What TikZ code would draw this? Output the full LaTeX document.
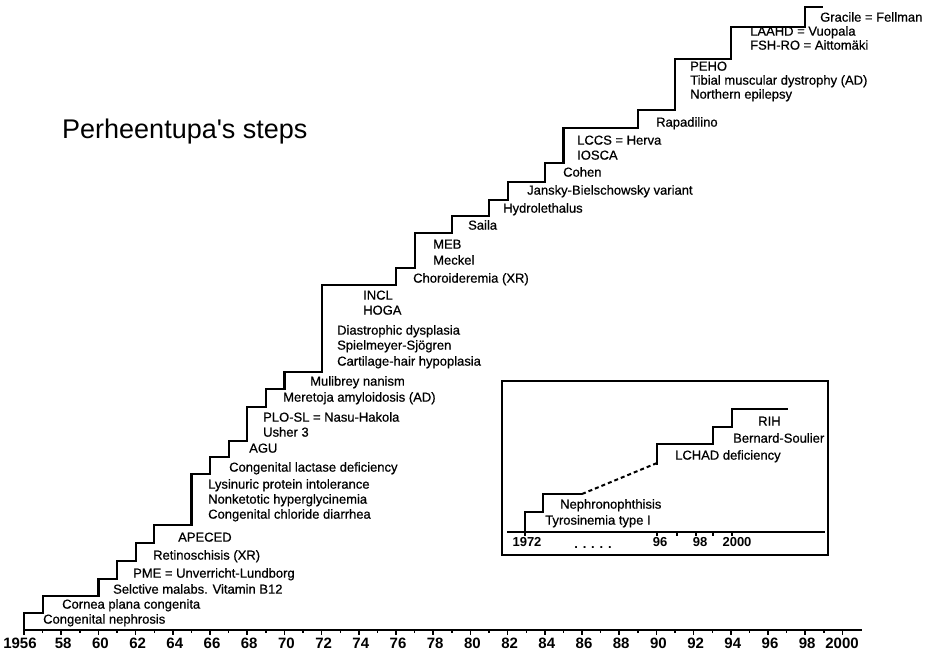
\documentclass[tikz,border=0pt]{standalone}
\usepackage{fontspec}
\setmainfont{Liberation Sans}
\newfontfamily\labfam{Liberation Sans}[FakeBold=0.6]
\newcommand\labfont{\labfam\fontsize{13}{15}\selectfont}
\newcommand\yrfont{\fontsize{15}{17}\selectfont\bfseries}
\newcommand\inyrfont{\fontsize{13}{15}\selectfont\bfseries}
\newcommand\ttlfont{\fontsize{27}{30}\selectfont}
\tikzset{
  lab/.style={anchor=mid west, inner sep=0pt, font=\labfont},
  yr/.style={anchor=mid, inner sep=0pt, font=\yrfont},
  inyr/.style={anchor=mid, inner sep=0pt, font=\inyrfont},
  stair/.style={line width=2.2pt, line join=miter},
  axisline/.style={line width=1.8pt},
  insetbox/.style={line width=1.4pt},
}
\begin{document}
\begin{tikzpicture}[x=1pt,y=-1pt]
\fill[white] (0,0) rectangle (928,653);
\useasboundingbox (0,0) rectangle (928,653);

% title
\node[anchor=mid west, inner sep=0pt, font=\ttlfont] (title) at (62,136) {Perheentupa\textquotesingle s steps};

% main axis
\coordinate (axL) at (24,630);
\coordinate (axR) at (862,630);
\draw[axisline] (axL) -- (axR);
\foreach \y in {1956,1958,...,2000}{
  \draw[line width=1.6pt] ({24+18.6*(\y-1956)},630) -- ++(0,5);
}
\foreach \y in {1957,1959,...,1999}{
  \draw[line width=1.4pt] ({24+18.6*(\y-1956)},630) -- ++(0,3);
}
\node[yr] (y1956) at (20,646) {1956};
\foreach \y in {58,60,...,98}{
  \node[yr] (y\y) at ({24+18.6*(\y-56)+2},646) {\y};
}
\node[yr] (y2000) at (842,646) {2000};

% staircase
\draw[stair] (24,630) |- (42.6,613) |- (98.4,596) |- (117,579) |- (135.6,561)
  |- (154.2,543) |- (191.4,525) |- (210,474) |- (228.6,457) |- (247.2,441)
  |- (265.8,407) |- (284.4,389) |- (321.6,372) |- (396,285) |- (414.6,268)
  |- (451.8,233) |- (489,216) |- (507.6,200) |- (544.8,182) |- (563.4,163)
  |- (637.8,128) |- (675,110) |- (730.8,59) |- (805.2,27) |- (823,7);

% labels
\node[lab] (l1) at (43,621) {Congenital nephrosis};
\node[lab] (l2) at (62,606) {Cornea plana congenita};
\node[lab] (l3) at (113,591) {Selctive malabs. Vitamin B12};
\node[lab] (l4) at (133,575) {PME = Unverricht-Lundborg};
\node[lab] (l5) at (153,557) {Retinoschisis (XR)};
\node[lab] (l6) at (178,539) {APECED};
\node[lab] (l7) at (208,486) {Lysinuric protein intolerance};
\node[lab] (l8) at (208,501) {Nonketotic hyperglycinemia};
\node[lab] (l9) at (208,516) {Congenital chloride diarrhea};
\node[lab] (l10) at (229,469) {Congenital lactase deficiency};
\node[lab] (l11) at (249,450) {AGU};
\node[lab] (l12) at (263,419) {PLO-SL = Nasu-Hakola};
\node[lab] (l13) at (263,434) {Usher 3};
\node[lab] (l14) at (283,399) {Meretoja amyloidosis (AD)};
\node[lab] (l15) at (310,383) {Mulibrey nanism};
\node[lab] (l16) at (337,332) {Diastrophic dysplasia};
\node[lab] (l17) at (337,347) {Spielmeyer-Sjögren};
\node[lab] (l18) at (337,363) {Cartilage-hair hypoplasia};
\node[lab] (l19) at (363,297) {INCL};
\node[lab] (l20) at (363,312) {HOGA};
\node[lab] (l21) at (413,280) {Choroideremia (XR)};
\node[lab] (l22) at (433,246) {MEB};
\node[lab] (l23) at (433,262) {Meckel};
\node[lab] (l24) at (468,227) {Saila};
\node[lab] (l25) at (503,210) {Hydrolethalus};
\node[lab] (l26) at (527,192) {Jansky-Bielschowsky variant};
\node[lab] (l27) at (563,174) {Cohen};
\node[lab] (l28) at (577,142) {LCCS = Herva};
\node[lab] (l29) at (577,157) {IOSCA};
\node[lab] (l30) at (656,124) {Rapadilino};
\node[lab] (l31) at (690,68) {PEHO};
\node[lab] (l32) at (690,82) {Tibial muscular dystrophy (AD)};
\node[lab] (l33) at (690,96) {Northern epilepsy};
\node[lab] (l34) at (750,33) {LAAHD = Vuopala};
\node[lab] (l35) at (750,47) {FSH-RO = Aittomäki};
\node[lab] (l36) at (820,19) {Gracile = Fellman};

% inset
\draw[insetbox] (502,381) rectangle (828,555);
\coordinate (inL) at (507,532);
\coordinate (inR) at (825,532);
\draw[line width=1.4pt] (inL) -- (inR);
\foreach \x in {525,657,677,696,713,732}{
  \draw[line width=1.3pt] (\x,532) -- ++(0,4);
}
\draw[stair, line width=2pt] (525,534) |- (543,512) |- (582,494);
\draw[line width=2pt, dash pattern=on 4pt off 3pt] (582,494) -- (657,463);
\draw[stair, line width=2pt] (657,465) |- (713,444) |- (732,427) |- (788,409);
\node[inyr] (i1972) at (527,544) {1972};
\node[inyr] (idots) at (593,546) {. . . . .};
\node[inyr] (i96) at (660,544) {96};
\node[inyr] (i98) at (700,544) {98};
\node[inyr] (i2000) at (737,544) {2000};
\node[lab] (t1) at (545,522) {Tyrosinemia type I};
\node[lab] (t2) at (560,506) {Nephronophthisis};
\node[lab] (t3) at (675,457) {LCHAD deficiency};
\node[lab] (t4) at (733,440) {Bernard-Soulier};
\node[lab] (t5) at (758,423) {RIH};
\end{tikzpicture}
\end{document}
